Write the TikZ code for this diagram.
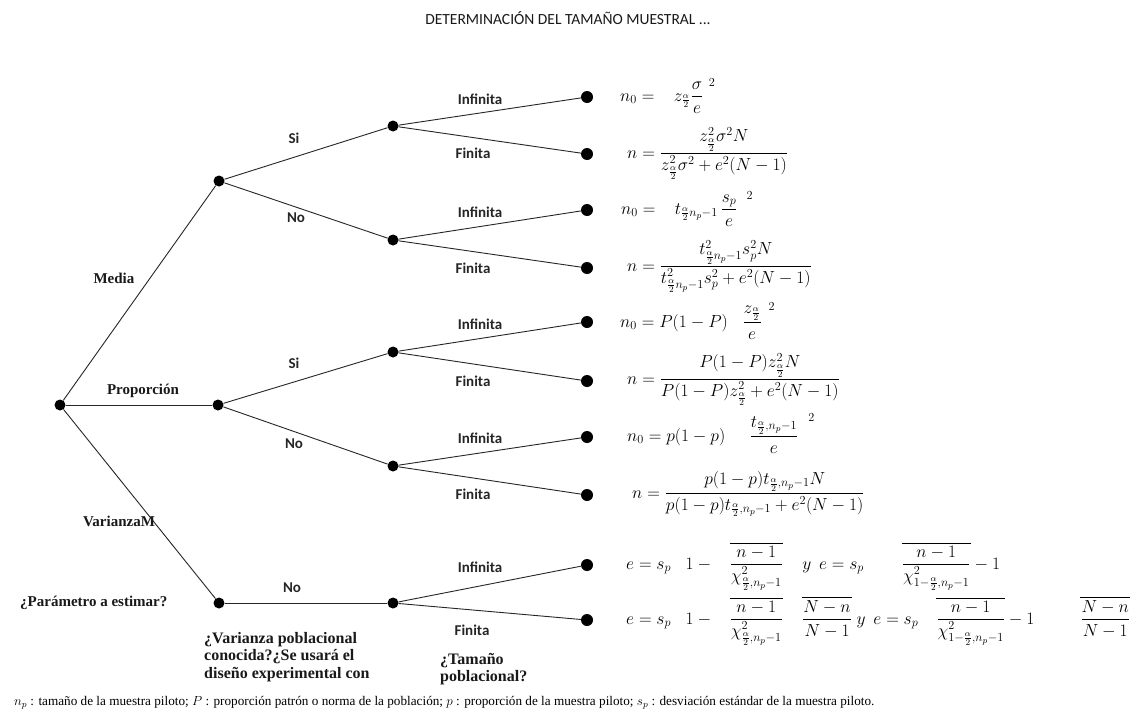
\RequirePackage{fix-cm}
\documentclass[tikz,border=0pt]{standalone}
\usepackage{amsmath}
\usepackage{fontspec}
\setmainfont{Liberation Serif}
\newfontfamily\carlito{Carlito}
\begin{document}
\begin{tikzpicture}[x=1pt,y=-1pt,
  dot/.style={circle,fill=black,inner sep=0pt,minimum size=11pt},
  leaf/.style={circle,fill=black,inner sep=0pt,minimum size=12pt},
  edge/.style={draw=black!85,line width=0.9pt},
  lbl/.style={font=\carlito\bfseries\fontsize{15}{17}\selectfont,text=black!85,inner sep=0pt},
  slbl/.style={font=\bfseries\fontsize{15}{17.5}\selectfont,text=black!90,inner sep=0pt},
  qlbl/.style={font=\bfseries\fontsize{16}{17.5}\selectfont,text=black!90,inner sep=0pt,anchor=north west,align=left},
  fml/.style={anchor=base west,font=\fontsize{17.5}{20}\selectfont,inner sep=0pt}
]
\useasboundingbox (0,0) rectangle (1139,725);
\fill[white] (0,0) rectangle (1139,725);

% title
\node[font=\carlito\fontsize{15.5}{18}\selectfont,text=black!90] (title) at (568,18) {DETERMINACIÓN DEL TAMAÑO MUESTRAL ...};

% tree nodes
\node[dot] (r) at (60,405) {};
\node[dot] (m) at (219,181) {};
\node[dot] (p) at (218,405) {};
\node[dot] (v) at (219,603) {};
\node[dot] (ms) at (393,126) {};
\node[dot] (mn) at (393,240) {};
\node[dot] (ps) at (393,352) {};
\node[dot] (pn) at (393,466) {};
\node[dot] (vn) at (393,603) {};
\node[leaf] (l1) at (587,97) {};
\node[leaf] (l2) at (587,154) {};
\node[leaf] (l3) at (587,210) {};
\node[leaf] (l4) at (587,268) {};
\node[leaf] (l5) at (587,322) {};
\node[leaf] (l6) at (587,381) {};
\node[leaf] (l7) at (587,437) {};
\node[leaf] (l8) at (587,495) {};
\node[leaf] (l9) at (587,565) {};
\node[leaf] (l10) at (587,620) {};

\draw[edge] (r) -- (m);
\draw[edge] (r) -- (p);
\draw[edge] (r) -- (v);
\draw[edge] (m) -- (ms);
\draw[edge] (m) -- (mn);
\draw[edge] (p) -- (ps);
\draw[edge] (p) -- (pn);
\draw[edge] (v) -- (vn);
\draw[edge] (ms) -- (l1);
\draw[edge] (ms) -- (l2);
\draw[edge] (mn) -- (l3);
\draw[edge] (mn) -- (l4);
\draw[edge] (ps) -- (l5);
\draw[edge] (ps) -- (l6);
\draw[edge] (pn) -- (l7);
\draw[edge] (pn) -- (l8);
\draw[edge] (vn) -- (l9);
\draw[edge] (vn) -- (l10);

% branch labels
\node[slbl] (tmedia) at (114,278) {Media};
\node[slbl] (tprop) at (143,391) {Proporción};
\node[slbl] (tvar) at (119,521) {VarianzaM};
\node[lbl] (s1) at (294,138) {Si};
\node[lbl] (n1) at (296,218) {No};
\node[lbl] (s2) at (294,363) {Si};
\node[lbl] (n2) at (294,444) {No};
\node[lbl] (n3) at (292,588) {No};
\node[lbl] (i1) at (480,99) {Infinita};
\node[lbl] (f1) at (473,153) {Finita};
\node[lbl] (i2) at (480,212) {Infinita};
\node[lbl] (f2) at (473,268) {Finita};
\node[lbl] (i3) at (480,324) {Infinita};
\node[lbl] (f3) at (473,381) {Finita};
\node[lbl] (i4) at (480,438) {Infinita};
\node[lbl] (f4) at (473,494) {Finita};
\node[lbl] (i5) at (480,567) {Infinita};
\node[lbl] (f5) at (472,630) {Finita};

% question labels
\node[slbl,anchor=west] (q1) at (20,603) {¿Parámetro a estimar?};
\node[qlbl] (q2) at (204,632) {¿Varianza poblacional\\conocida?¿Se usará el\\diseño experimental con};
\node[qlbl] (q3) at (440,653) {¿Tamaño\\poblacional?};

% formulas
\node[fml] (f01) at (620,101) {$\displaystyle n_0=\;\;\; z_{\frac{\alpha}{2}}\frac{\sigma}{e}^{\;\,2}$};
\node[fml] (f02) at (627,158) {$\displaystyle n=\frac{z_{\frac{\alpha}{2}}^2\sigma^2N}{z_{\frac{\alpha}{2}}^2\sigma^2+e^2(N-1)}$};
\node[fml] (f03) at (621,214) {$\displaystyle n_0=\;\;\; t_{\frac{\alpha}{2}n_p-1}\,\frac{s_p}{e}^{\;\;\,2}$};
\node[fml] (f04) at (627,271) {$\displaystyle n=\frac{t^2_{\frac{\alpha}{2}n_p-1}s_p^2N}{t^2_{\frac{\alpha}{2}n_p-1}s_p^2+e^2(N-1)}$};
\node[fml] (f05) at (620,327) {$\displaystyle n_0=P(1-P)\;\;\;\frac{z_{\frac{\alpha}{2}}}{e}^{\;\;2}$};
\node[fml] (f06) at (627,384) {$\displaystyle n=\frac{P(1-P)z^2_{\frac{\alpha}{2}}N}{P(1-P)z^2_{\frac{\alpha}{2}}+e^2(N-1)}$};
\node[fml] (f07) at (627,441) {$\displaystyle n_0=p(1-p)\;\;\;\;\;\frac{t_{\frac{\alpha}{2},n_p-1}}{e}^{\;\;\;2}$};
\node[fml] (f08) at (632,498) {$\displaystyle n=\frac{p(1-p)t_{\frac{\alpha}{2},n_p-1}N}{p(1-p)t_{\frac{\alpha}{2},n_p-1}+e^2(N-1)}$};
\node[fml] (f09) at (626,569) {$\displaystyle e=s_p\;\;\;1-\;\;\;\overline{\frac{n-1}{\chi^2_{\frac{\alpha}{2},n_p-1}}}\;\;\;\;y\;\,e=s_p\hspace{38pt}\overline{\frac{n-1}{\chi^2_{1-\frac{\alpha}{2},n_p-1}}}-1$};
\node[fml] (f10) at (626,624) {$\displaystyle e=s_p\;\;\;1-\;\;\;\overline{\frac{n-1}{\chi^2_{\frac{\alpha}{2},n_p-1}}}\;\;\;\;\overline{\frac{N-n}{N-1}}\;y\;\,e=s_p\hspace{18pt}\overline{\frac{n-1}{\chi^2_{1-\frac{\alpha}{2},n_p-1}}}-1\hspace{46pt}\overline{\frac{N-n}{N-1}}$};

% footer
\node[anchor=west,font=\fontsize{13.2}{14}\selectfont,inner sep=0pt] (foot) at (14,703) {$n_p$ : tamaño de la muestra piloto; $P$ : proporción patrón o norma de la población; $p$ : proporción de la muestra piloto; $s_p$ : desviación estándar de la muestra piloto.};
\end{tikzpicture}
\end{document}
